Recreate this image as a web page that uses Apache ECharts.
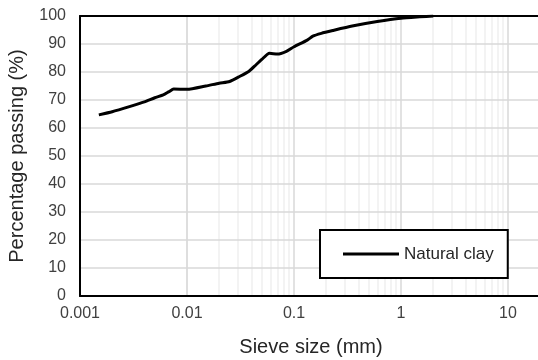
<!DOCTYPE html>
<html>
<head>
<meta charset="utf-8">
<script src="https://cdn.jsdelivr.net/npm/echarts@6/dist/echarts.min.js"></script>
<style>html,body{margin:0;padding:0;background:#fff;}#c{width:538px;height:360px;}</style>
</head>
<body>
<div id="c"></div>
<script>
var sieveSize = [0.0015,0.002,0.003,0.004,0.005,0.006,0.0068,0.0075,0.01,0.015,0.02,0.025,0.031,0.038,0.044,0.05,0.059,0.07,0.085,0.1,0.133,0.15,0.18,0.23,0.35,0.6,1.0,1.5,2.0];
var passing   = [64.7,65.8,67.8,69.3,70.8,71.8,73.0,73.9,73.8,75.0,76.0,76.6,78.4,80.3,82.5,84.5,86.7,86.4,87.4,89.0,91.4,92.8,93.8,94.8,96.4,98.0,99.2,99.7,100];
var seriesName = 'Natural clay';
var decades = [0.001,0.01,0.1,1,10];

var minorLines = [];
decades.forEach(function(d){
  for (var k=2;k<=9;k++){ minorLines.push({xAxis: +(d*k).toPrecision(3)}); }
});

var chart = echarts.init(document.getElementById('c'));
var font = 'Liberation Sans, Arial, sans-serif';
chart.setOption({
  animation:false,
  grid:{left:80, top:16, width:535, height:280, outerBoundsMode:'none', containLabel:false, show:false},
  xAxis:[{
    type:'log', logBase:10, min:0.001, max:100, z:10,
    axisLine:{show:true, lineStyle:{color:'#000', width:2}},
    axisTick:{show:false},
    axisLabel:{color:'#404040', fontSize:16, fontFamily:font, margin:10,
      formatter:function(v){ return String(+v.toPrecision(3)); }},
    splitLine:{show:true, lineStyle:{color:'#d9d9d9', width:1.5}},
    minorTick:{show:false}, minorSplitLine:{show:false}
  },{
    type:'log', logBase:10, min:0.001, max:100, position:'top', z:12,
    axisLine:{show:true, onZero:false, lineStyle:{color:'#000', width:2}},
    axisTick:{show:false}, axisLabel:{show:false}, splitLine:{show:false}
  }],
  yAxis:{
    type:'value', min:0, max:100, interval:10, z:10,
    name:'Percentage passing (%)', nameLocation:'middle', nameGap:53,
    nameTextStyle:{color:'#262626', fontSize:20, fontFamily:font},
    axisLine:{show:true, lineStyle:{color:'#000', width:2}},
    axisTick:{show:false},
    axisLabel:{color:'#404040', fontSize:16, fontFamily:font, margin:14},
    splitLine:{show:true, lineStyle:{color:'#d9d9d9', width:1.5}}
  },
  legend:{
    left:320, top:230, data:[{name:seriesName, icon:'rect'}],
    itemWidth:56, itemHeight:3, itemGap:0,
    padding:[14,14,14,23],
    borderColor:'#000', borderWidth:2, backgroundColor:'#fff', borderRadius:0,
    itemStyle:{color:'#000'},
    textStyle:{color:'#262626', fontSize:17, fontFamily:font, lineHeight:20},
    z:30
  },
  graphic:[{type:'text', x:311, y:347, z:30,
    style:{text:'Sieve size (mm)', fill:'#262626', font:'20px '+font, textAlign:'center', textVerticalAlign:'middle', verticalAlign:'middle'}}],
  series:[
    {type:'line', data:[], silent:true, z:1,
     markLine:{silent:true, symbol:['none','none'], label:{show:false},
       lineStyle:{color:'#efefef', width:1.5, type:'solid'}, data:minorLines, animation:false}},
    {type:'line', name:seriesName, symbol:'none', smooth:0.2,
     lineStyle:{color:'#000', width:3}, itemStyle:{color:'#000'},
     data: sieveSize.map(function(x,i){return [x, passing[i]];}), z:20}
  ]
});
</script>
</body>
</html>
